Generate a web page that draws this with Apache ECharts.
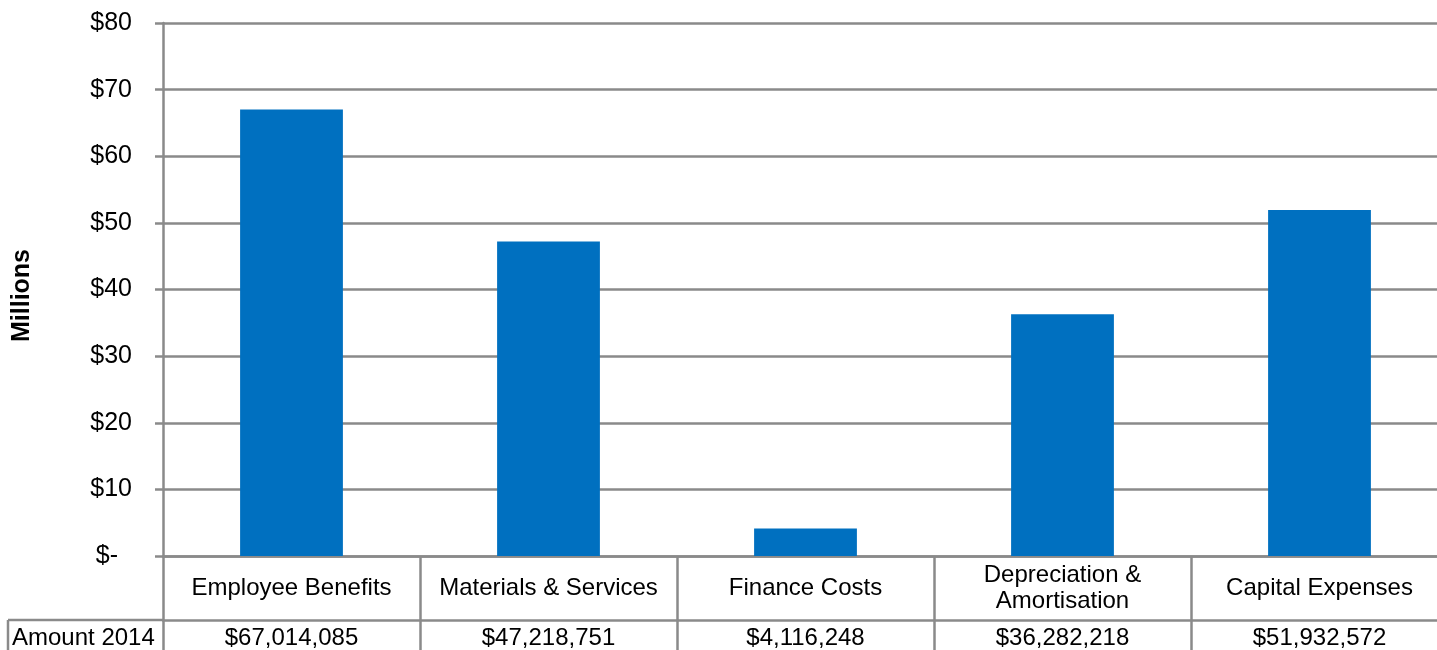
<!DOCTYPE html>
<html>
<head>
<meta charset="utf-8">
<script src="https://cdn.jsdelivr.net/npm/echarts@6/dist/echarts.min.js"></script>
<style>
html,body{margin:0;padding:0;background:#fff;overflow:hidden;width:1437px;height:650px;}
#c{width:1448px;height:650px;}
</style>
</head>
<body>
<div id="c"></div>
<script>
const categories = ['Employee Benefits', 'Materials & Services', 'Finance Costs', 'Depreciation &\nAmortisation', 'Capital Expenses'];
const amounts2014 = [67014085, 47218751, 4116248, 36282218, 51932572];
const yTicks = { min: 0, max: 80, interval: 10 };
const rowLabel = 'Amount 2014';
const axisName = 'Millions';

const FONT = 'Liberation Sans, Arial, sans-serif';
const GRAY = '#8a8a8a';
const LW = 2.5;
const fmtMoney = v => '$' + v.toLocaleString('en-US');

const chart = echarts.init(document.getElementById('c'));
chart.setOption({
  animation: false,
  backgroundColor: '#fff',
  grid: { left: 163, right: 0, top: 23, bottom: 94, containLabel: false },
  xAxis: [{
    type: 'category',
    data: categories,
    position: 'bottom',
    axisLine: { show: true, lineStyle: { color: GRAY, width: LW } },
    axisTick: { show: true, interval: 0, length: 94, lineStyle: { color: GRAY, width: LW } },
    axisLabel: { interval: 0, margin: 32, verticalAlign: 'middle', fontFamily: FONT, fontSize: 24, color: '#000', lineHeight: 26 },
    splitLine: { show: false }
  }, {
    type: 'category',
    data: categories,
    position: 'bottom',
    offset: 64,
    axisLine: { show: true, lineStyle: { color: GRAY, width: LW } },
    axisTick: { show: false },
    axisLabel: { interval: 0, margin: 18, verticalAlign: 'middle', fontFamily: FONT, fontSize: 24, color: '#000',
      formatter: (v, i) => fmtMoney(amounts2014[i]) },
    splitLine: { show: false }
  }],
  yAxis: {
    type: 'value',
    min: yTicks.min, max: yTicks.max, interval: yTicks.interval,
    name: axisName,
    nameLocation: 'middle',
    nameRotate: 90,
    nameGap: 128,
    nameTextStyle: { fontFamily: FONT, fontSize: 25, fontWeight: 'bold', color: '#000', padding: [0, 12, 0, 0] },
    axisLine: { show: true, lineStyle: { color: GRAY, width: LW } },
    axisTick: { show: true, length: 8, lineStyle: { color: GRAY, width: LW } },
    axisLabel: {
      margin: 31, fontFamily: FONT, fontSize: 25, color: '#000',
      formatter: v => v === 0 ? '{z|$-}' : '$' + v,
      rich: { z: { fontFamily: FONT, fontSize: 25, color: '#000', padding: [0, 14, 0, 0] } }
    },
    splitLine: { show: true, lineStyle: { color: GRAY, width: LW } }
  },
  series: [{
    type: 'bar',
    xAxisIndex: 0,
    data: amounts2014.map(v => v / 1e6),
    barCategoryGap: '60%',
    itemStyle: { color: '#0070C0' }
  }],
  graphic: [
    { type: 'line', shape: { x1: 8, y1: 620, x2: 163, y2: 620 }, style: { stroke: GRAY, lineWidth: LW } },
    { type: 'line', shape: { x1: 8, y1: 620, x2: 8, y2: 650 }, style: { stroke: GRAY, lineWidth: LW } },
    { type: 'text', left: 12, top: 626, style: { text: rowLabel, fontFamily: FONT, fontSize: 24, fill: '#000' } }
  ]
});
</script>
</body>
</html>
